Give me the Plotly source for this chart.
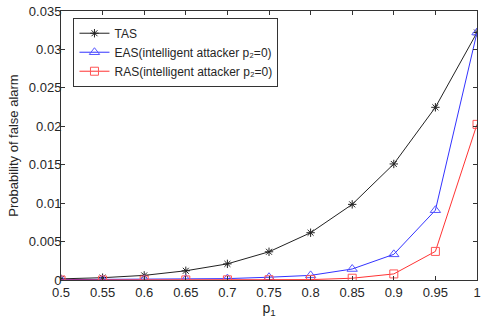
import plotly.graph_objects as go

p1 = [0.5, 0.55, 0.6, 0.65, 0.7, 0.75, 0.8, 0.85, 0.9, 0.95, 1.0]
tas = [0.00015, 0.0003, 0.0006, 0.0012, 0.0021, 0.00367, 0.00615, 0.00984, 0.0151, 0.02247, 0.0322]
eas = [0.00005, 0.00006, 0.00008, 0.0001, 0.00018, 0.00036, 0.0006, 0.00143, 0.00334, 0.00908, 0.0322]
ras = [0.0, 0.0, 0.0, 0.00001, 0.00002, 0.00003, 0.00005, 0.00023, 0.00079, 0.00372, 0.02025]

x_ticks = [0.5, 0.55, 0.6, 0.65, 0.7, 0.75, 0.8, 0.85, 0.9, 0.95, 1.0]
x_labels = ["0.5", "0.55", "0.6", "0.65", "0.7", "0.75", "0.8", "0.85", "0.9", "0.95", "1"]
y_ticks = [0, 0.005, 0.01, 0.015, 0.02, 0.025, 0.03, 0.035]
y_labels = ["0", "0.005", "0.01", "0.015", "0.02", "0.025", "0.03", "0.035"]

font_family = "Liberation Sans, Arial, sans-serif"

fig = go.Figure()
fig.add_trace(go.Scatter(
    x=p1, y=tas, mode="lines+markers", name="TAS",
    line=dict(color="#222222", width=1),
    marker=dict(symbol="asterisk-open", size=7, color="#222222", line=dict(width=1, color="#222222")),
))
fig.add_trace(go.Scatter(
    x=p1, y=eas, mode="lines+markers", name="EAS(intelligent attacker p₂=0)",
    line=dict(color="#3333ff", width=1),
    marker=dict(symbol="triangle-up-open", size=9, color="#5555ff", line=dict(width=1, color="#5555ff")),
))
fig.add_trace(go.Scatter(
    x=p1, y=ras, mode="lines+markers", name="RAS(intelligent attacker p₂=0)",
    line=dict(color="#ff3333", width=1),
    marker=dict(symbol="square-open", size=8, color="#ff5555", line=dict(width=1, color="#ff5555")),
))

axis_common = dict(
    showline=True, linecolor="#333333", linewidth=1, mirror="ticks",
    ticks="inside", ticklen=4, tickcolor="#333333", showgrid=False, zeroline=False,
    tickfont=dict(family=font_family, size=13, color="#262626"),
    ticklabeloverflow="allow",
)

fig.update_layout(
    width=485, height=322,
    margin=dict(l=61, r=4, t=5, b=42),
    paper_bgcolor="white", plot_bgcolor="white",
    font=dict(family=font_family, size=12, color="#262626"),
    xaxis=dict(range=[0.5, 1.0], tickvals=x_ticks, ticktext=x_labels,
               title=dict(text="p<sub>1</sub>", standoff=4, font=dict(size=14)), **axis_common),
    yaxis=dict(range=[0, 0.035], tickvals=y_ticks, ticktext=y_labels,
               ticklabelstandoff=-4,
               title=dict(text="Probability of false alarm", standoff=7, font=dict(size=13)), **axis_common),
    legend=dict(x=0.03, y=0.975, xanchor="left", yanchor="top",
                bgcolor="white", bordercolor="#333333", borderwidth=1,
                font=dict(size=12), tracegroupgap=0, itemwidth=30),
    showlegend=True,
)

fig.write_html("out.html")
